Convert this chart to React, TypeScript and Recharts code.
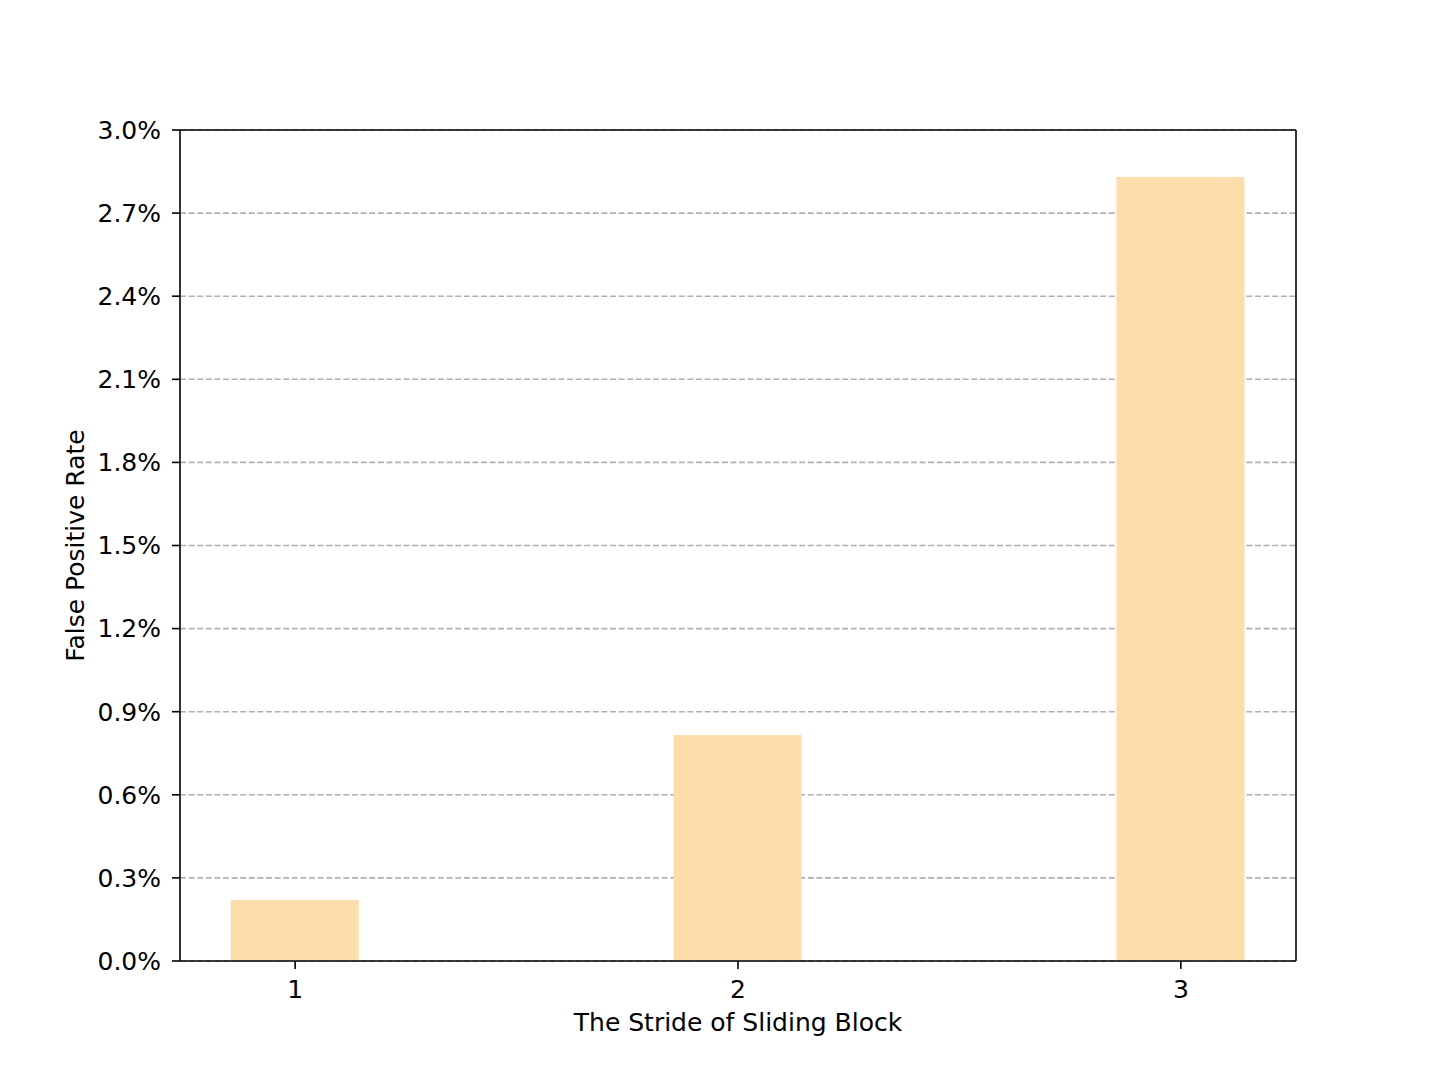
import {
  BarChart,
  Bar,
  XAxis,
  YAxis,
  CartesianGrid,
  ReferenceLine,
} from "recharts";

// stride of the sliding block
const strides = [1, 2, 3];
// false positive rate, in percent
const fpr = [0.22, 0.816, 2.83];
const yTicks = [0, 0.3, 0.6, 0.9, 1.2, 1.5, 1.8, 2.1, 2.4, 2.7, 3.0];

const data = strides.map((s, i) => ({ stride: s, fpr: fpr[i] }));

const FONT = "'DejaVu Sans', sans-serif";

export default function App() {
  const tickStyle = { fontFamily: FONT, fontSize: 25, fill: "#000" };

  return (
    <div
      style={{
        position: "absolute",
        left: 0,
        top: 0,
        width: 1440,
        height: 1080,
        background: "#fff",
      }}
    >
      <BarChart
        width={1440}
        height={1080}
        data={data}
        margin={{ top: 130, right: 144, bottom: 39, left: 60 }}
      >
        <CartesianGrid
          vertical={false}
          stroke="#b0b0b0"
          strokeWidth={1.6}
          strokeDasharray="6 2.6"
        />
        <XAxis
          dataKey="stride"
          type="number"
          domain={[0.74, 3.26]}
          ticks={strides}
          allowDataOverflow
          height={80}
          tick={tickStyle}
          tickSize={8}
          tickMargin={11}
          axisLine={{ stroke: "#000", strokeWidth: 1.6 }}
          tickLine={{ stroke: "#000", strokeWidth: 1.6 }}
          label={{
            value: "The Stride of Sliding Block",
            position: "insideBottom",
            offset: 10,
            style: { fontFamily: FONT, fontSize: 25, fill: "#000" },
          }}
        />
        <YAxis
          type="number"
          domain={[0, 3]}
          ticks={yTicks}
          allowDataOverflow
          width={120}
          tick={tickStyle}
          tickSize={8}
          tickMargin={11}
          tickFormatter={(v: number) => `${v.toFixed(1)}%`}
          axisLine={{ stroke: "#000", strokeWidth: 1.6 }}
          tickLine={{ stroke: "#000", strokeWidth: 1.6 }}
          label={{
            value: "False Positive Rate",
            angle: -90,
            position: "insideLeft",
            offset: 15,
            style: {
              fontFamily: FONT,
              fontSize: 25,
              fill: "#000",
              textAnchor: "middle",
            },
          }}
        />
        <Bar
          dataKey="fpr"
          fill="#FDDDAB"
          barSize={128}
          isAnimationActive={false}
        />
        <ReferenceLine y={3} stroke="#000" strokeWidth={1.6} />
        <ReferenceLine x={3.26} stroke="#000" strokeWidth={1.6} />
      </BarChart>
    </div>
  );
}
